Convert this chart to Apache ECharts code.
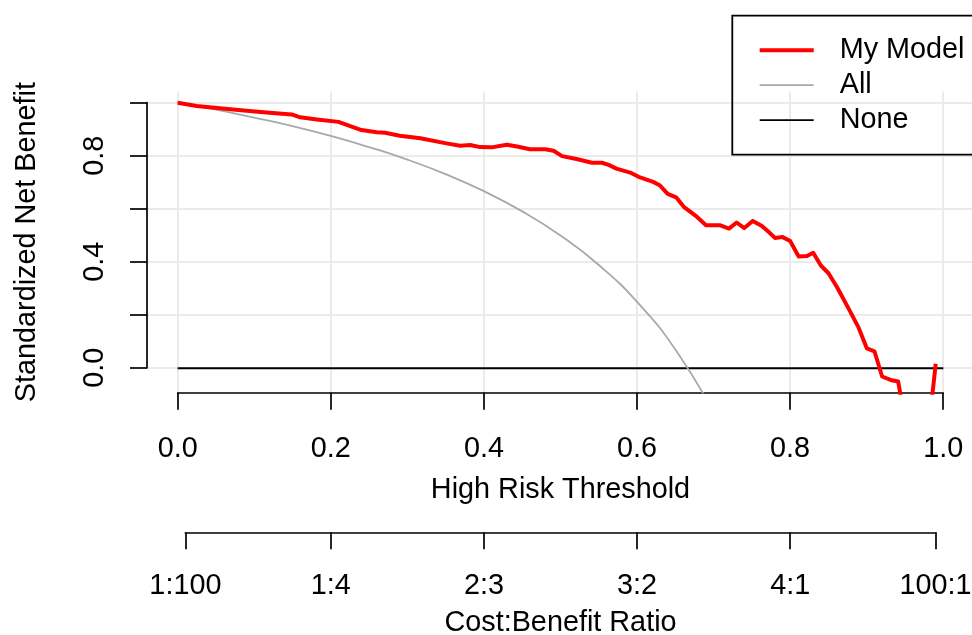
<!DOCTYPE html>
<html>
<head>
    <meta charset="utf-8">
    <title>Decision curve</title>
    <style>
        html, body { margin: 0; padding: 0; background: #fff; }
    </style>
</head>
<body>
<div id="chart1" style="width: 972px; height: 635px;"></div>
<script src="https://cdn.jsdelivr.net/npm/echarts@6/dist/echarts.min.js"></script>
<script>
    // data
    var modelX = [0, 0.025, 0.055, 0.09, 0.12, 0.149, 0.16, 0.182, 0.21, 0.24, 0.26, 0.271, 0.29, 0.317, 0.351, 0.369,
        0.382, 0.395, 0.41, 0.43, 0.445, 0.46, 0.48, 0.491, 0.502, 0.521, 0.541, 0.554, 0.563, 0.573, 0.591, 0.602,
        0.621, 0.63, 0.64, 0.651, 0.661, 0.678, 0.69, 0.708, 0.72, 0.73, 0.74, 0.751, 0.763, 0.772, 0.78, 0.79, 0.8,
        0.811, 0.822, 0.83, 0.84, 0.85, 0.861, 0.874, 0.889, 0.9, 0.91, 0.92, 0.931, 0.941, 0.95, 0.96, 0.97, 0.98, 0.99];
    var modelY = [1.0, 0.988, 0.979, 0.97, 0.962, 0.956, 0.945, 0.937, 0.928, 0.897, 0.889, 0.887, 0.876, 0.866, 0.847, 0.838,
        0.841, 0.833, 0.832, 0.842, 0.834, 0.825, 0.825, 0.819, 0.799, 0.788, 0.774, 0.774, 0.766, 0.752, 0.737, 0.721,
        0.702, 0.688, 0.657, 0.644, 0.608, 0.571, 0.539, 0.539, 0.526, 0.549, 0.528, 0.555, 0.536, 0.513, 0.491, 0.494, 0.479,
        0.421, 0.423, 0.435, 0.387, 0.358, 0.306, 0.237, 0.155, 0.075, 0.064, -0.031, -0.044, -0.05, -0.2, -0.35, -0.4, -0.25, 0.017];

    var allX = [0, 0.05, 0.1, 0.15, 0.2, 0.25, 0.3, 0.35, 0.4, 0.45, 0.5, 0.55, 0.6, 0.65, 0.7];
    var allY = [1.0, 0.974, 0.944, 0.912, 0.875, 0.833, 0.786, 0.731, 0.667, 0.591, 0.5, 0.389, 0.25, 0.071, -0.167];

    var noneX = [0, 1];
    var noneY = [0, 0];

    var costTicks = [0.01, 0.2, 0.4, 0.6, 0.8, 0.99];
    var costLabels = ['1:100', '1:4', '2:3', '3:2', '4:1', '100:1'];

    function pairs(xs, ys) {
        var out = [];
        for (var i = 0; i < xs.length; i++) {
            out.push([xs[i], ys[i]]);
        }
        return out;
    }

    var font = "'Liberation Sans', Arial, Helvetica, sans-serif";
    var fs = 28.8;
    var gridColor = '#EBEBEB';

    var Mychart1 = echarts.init(document.getElementById('chart1'));
    var option1 = {
        animation: false,
        backgroundColor: '#ffffff',
        textStyle: {fontFamily: font, color: '#000'},
        legend: {
            orient: 'vertical',
            left: 732.3,
            top: 15.7,
            padding: [17, 40, 17, 25.4],
            borderColor: '#000',
            borderWidth: 1.8,
            borderRadius: 0,
            itemWidth: 54,
            itemHeight: 2,
            itemGap: 0,
            textStyle: {fontFamily: font, fontSize: fs, color: '#000', lineHeight: 35, padding: [0, 0, 0, 21]},
            data: [
                {name: 'My Model', lineStyle: {width: 4, color: '#FF0000'}},
                {name: 'All', lineStyle: {width: 1.8, color: '#A9A9A9'}},
                {name: 'None', lineStyle: {width: 1.8, color: '#000'}}
            ]
        },
        grid: [
            // plot region
            {left: 147, top: 91.6, width: 827, height: 301.1, outerBoundsMode: 'none'},
            // threshold axis + vertical grid
            {left: 177.7, top: 91.6, width: 765.5, height: 301.1, outerBoundsMode: 'none'},
            // y axis + horizontal grid
            {left: 147, top: 102.7, width: 827, height: 265, outerBoundsMode: 'none'},
            // cost:benefit axis
            {left: 185.4, top: 500, width: 750.2, height: 32.3, outerBoundsMode: 'none'}
        ],
        xAxis: [
            {
                gridIndex: 0, type: 'value', min: -0.04, max: 1.04,
                axisLine: {show: false}, axisTick: {show: false}, axisLabel: {show: false}, splitLine: {show: false},
                name: 'High Risk Threshold', nameLocation: 'middle', nameGap: 97,
                nameTextStyle: {fontFamily: font, fontSize: fs, color: '#000', verticalAlign: 'middle'}
            },
            {
                gridIndex: 1, type: 'value', min: 0, max: 1, interval: 0.2,
                axisLine: {show: true, lineStyle: {color: '#000', width: 1.7}},
                axisTick: {show: true, inside: false, length: 17, lineStyle: {color: '#000', width: 1.7}},
                axisLabel: {
                    show: true, margin: 56, verticalAlign: 'middle', showMinLabel: true, showMaxLabel: true,
                    fontFamily: font, fontSize: fs, color: '#000',
                    formatter: function (v) { return v.toFixed(1); }
                },
                splitLine: {show: true, lineStyle: {color: gridColor, width: 2}}
            },
            {gridIndex: 2, type: 'value', min: 0, max: 1, show: false},
            {
                gridIndex: 3, type: 'value', min: 0.01, max: 0.99,
                axisLine: {show: true, lineStyle: {color: '#000', width: 1.7}},
                axisTick: {show: true, inside: false, length: 17, customValues: costTicks, lineStyle: {color: '#000', width: 1.7}},
                axisLabel: {
                    show: true, margin: 54, verticalAlign: 'middle', customValues: costTicks,
                    fontFamily: font, fontSize: fs, color: '#000',
                    formatter: function (v) {
                        var k = costTicks.indexOf(v);
                        return k >= 0 ? costLabels[k] : '';
                    }
                },
                splitLine: {show: false},
                name: 'Cost:Benefit Ratio', nameLocation: 'middle', nameGap: 91,
                nameTextStyle: {fontFamily: font, fontSize: fs, color: '#000', verticalAlign: 'middle'}
            }
        ],
        yAxis: [
            {
                gridIndex: 0, type: 'value', min: -0.092, max: 1.042,
                axisLine: {show: false}, axisTick: {show: false}, axisLabel: {show: false}, splitLine: {show: false},
                name: 'Standardized Net Benefit', nameLocation: 'middle', nameGap: 120, nameRotate: 90,
                nameTextStyle: {fontFamily: font, fontSize: fs, color: '#000', verticalAlign: 'middle'}
            },
            {gridIndex: 1, type: 'value', min: 0, max: 1, show: false},
            {
                gridIndex: 2, type: 'value', min: 0, max: 1, interval: 0.2,
                axisLine: {show: true, lineStyle: {color: '#000', width: 1.7}},
                axisTick: {show: true, inside: false, length: 17, lineStyle: {color: '#000', width: 1.7}},
                axisLabel: {
                    show: true, margin: 52, rotate: 90, align: 'center', verticalAlign: 'middle',
                    showMinLabel: true, showMaxLabel: true,
                    fontFamily: font, fontSize: fs, color: '#000',
                    formatter: function (v) {
                        return Math.round(v * 10) % 4 === 0 ? v.toFixed(1) : '';
                    }
                },
                splitLine: {show: true, lineStyle: {color: gridColor, width: 2}}
            },
            {gridIndex: 3, type: 'value', min: 0, max: 1, show: false}
        ],
        series: [
            {
                name: 'None', type: 'line', xAxisIndex: 0, yAxisIndex: 0,
                data: pairs(noneX, noneY), symbol: 'none', clip: true,
                lineStyle: {color: '#000', width: 1.8}, itemStyle: {color: '#000'}, z: 3
            },
            {
                name: 'All', type: 'line', xAxisIndex: 0, yAxisIndex: 0,
                data: pairs(allX, allY), symbol: 'none', smooth: true, clip: true,
                lineStyle: {color: '#A9A9A9', width: 1.8}, itemStyle: {color: '#A9A9A9'}, z: 4
            },
            {
                name: 'My Model', type: 'line', xAxisIndex: 0, yAxisIndex: 0,
                data: pairs(modelX, modelY), symbol: 'none', clip: true,
                lineStyle: {color: '#FF0000', width: 4, join: 'round'}, itemStyle: {color: '#FF0000'}, z: 5
            }
        ]
    };
    Mychart1.setOption(option1);
</script>
</body>
</html>
